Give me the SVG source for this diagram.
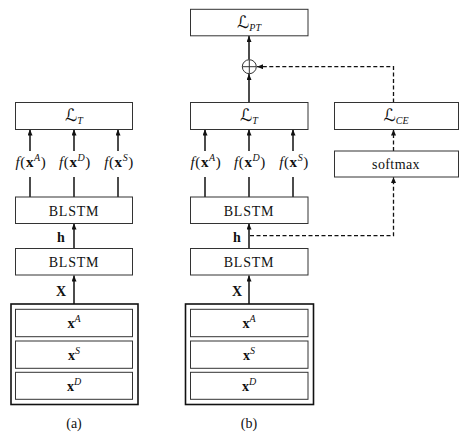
<svg xmlns="http://www.w3.org/2000/svg" width="463" height="437" viewBox="0 0 463 437">
<style>
.box{fill:#fff;stroke:#333;stroke-width:1}
.outer{fill:#fff;stroke:#111;stroke-width:1.6}
.t{font-family:"Liberation Serif","DejaVu Serif",serif;font-size:14px;fill:#111;text-anchor:middle}
.fl{font-size:15px;letter-spacing:0.6px}
.cal{font-family:"DejaVu Serif","DejaVu Sans",serif;font-size:17px}
.it{font-style:italic}
.b{font-weight:bold}
.sup{font-style:italic;font-size:10px}
.ln{stroke:#111;stroke-width:1.5;fill:none}
.ar{stroke:#111;stroke-width:1.5;fill:none;marker-end:url(#ah)}
.da{stroke:#111;stroke-width:1.3;fill:none;stroke-dasharray:4,2.5}
.dar{stroke:#111;stroke-width:1.3;fill:none;stroke-dasharray:4,2.5;marker-end:url(#ah)}
</style>
<defs>
<marker id="ah" markerUnits="userSpaceOnUse" markerWidth="7" markerHeight="6" refX="6" refY="2.5" orient="auto">
<path d="M0,0 L6,2.5 L0,5 z" fill="#111"/>
</marker>
</defs>
<rect width="463" height="437" fill="#fff"/>

<!-- connectors -->
<g id="connectors">
<!-- (a) -->
<line class="ar" x1="74" y1="304" x2="74" y2="275.5"/>
<line class="ar" x1="74" y1="248.5" x2="74" y2="223.5"/>
<line class="ln" x1="30" y1="197" x2="30" y2="177"/>
<line class="ln" x1="74" y1="197" x2="74" y2="177"/>
<line class="ln" x1="118" y1="197" x2="118" y2="177"/>
<line class="ar" x1="30" y1="151" x2="30" y2="129.5"/>
<line class="ar" x1="74" y1="151" x2="74" y2="129.5"/>
<line class="ar" x1="118" y1="151" x2="118" y2="129.5"/>
<!-- (b) -->
<line class="ar" x1="249" y1="304" x2="249" y2="275.5"/>
<line class="ar" x1="249" y1="248.5" x2="249" y2="223.5"/>
<line class="ln" x1="205" y1="197" x2="205" y2="177"/>
<line class="ln" x1="249" y1="197" x2="249" y2="177"/>
<line class="ln" x1="293" y1="197" x2="293" y2="177"/>
<line class="ar" x1="205" y1="151" x2="205" y2="129.5"/>
<line class="ar" x1="249" y1="151" x2="249" y2="129.5"/>
<line class="ar" x1="293" y1="151" x2="293" y2="129.5"/>
<line class="ar" x1="249" y1="102.5" x2="249" y2="74"/>
<line class="ar" x1="249" y1="59.5" x2="249" y2="36"/>
<polyline class="dar" points="250,235.7 393.5,235.7 393.5,177"/>
<line class="dar" x1="393.5" y1="151" x2="393.5" y2="129.5"/>
<polyline class="dar" points="393.5,102.5 393.5,66.7 257,66.7"/>
</g>

<!-- (a) nodes -->
<g id="a-LT"><rect class="box" x="15.5" y="102.5" width="117" height="27"/>
<text class="t" x="74" y="121"><tspan class="cal">ℒ</tspan><tspan class="sup" dy="3">T</tspan></text></g>
<g id="a-fA"><text class="t fl" x="31" y="167"><tspan class="it">f</tspan>(<tspan class="b">x</tspan><tspan class="sup" dy="-6">A</tspan><tspan dy="6">)</tspan></text></g>
<g id="a-fD"><text class="t fl" x="75" y="167"><tspan class="it">f</tspan>(<tspan class="b">x</tspan><tspan class="sup" dy="-6">D</tspan><tspan dy="6">)</tspan></text></g>
<g id="a-fS"><text class="t fl" x="119" y="167"><tspan class="it">f</tspan>(<tspan class="b">x</tspan><tspan class="sup" dy="-6">S</tspan><tspan dy="6">)</tspan></text></g>
<g id="a-BLSTM1"><rect class="box" x="15.5" y="197" width="117" height="26.5"/>
<text class="t" x="74" y="215.5" letter-spacing="0.8">BLSTM</text></g>
<g id="a-h"><text class="t b" x="61" y="241.5" font-size="13">h</text></g>
<g id="a-BLSTM2"><rect class="box" x="15.5" y="248.5" width="117" height="26.5"/>
<text class="t" x="74" y="267" letter-spacing="0.8">BLSTM</text></g>
<g id="a-X"><text class="t b" x="61" y="296" font-size="15">X</text></g>
<g id="a-input"><rect class="outer" x="11" y="304" width="127" height="100.5"/>
<rect class="box" x="15.5" y="309.3" width="117" height="27.4"/>
<text class="t" x="74" y="327.5"><tspan class="b">x</tspan><tspan class="sup" dy="-6">A</tspan></text>
<rect class="box" x="15.5" y="341" width="117" height="27.3"/>
<text class="t" x="74" y="359.5"><tspan class="b">x</tspan><tspan class="sup" dy="-6">S</tspan></text>
<rect class="box" x="15.5" y="372.3" width="117" height="27"/>
<text class="t" x="74" y="390.5"><tspan class="b">x</tspan><tspan class="sup" dy="-6">D</tspan></text></g>
<g id="a-caption"><text class="t" x="74" y="428">(a)</text></g>

<!-- (b) nodes -->
<g id="b-LPT"><rect class="box" x="190.5" y="9.3" width="117.5" height="26.5"/>
<text class="t" x="249" y="28"><tspan class="cal">ℒ</tspan><tspan class="sup" dy="3">PT</tspan></text></g>
<g id="b-plus"><circle cx="249.3" cy="66.7" r="7" fill="#fff" stroke="#333" stroke-width="1"/>
<line x1="242.3" y1="66.7" x2="256.3" y2="66.7" stroke="#333" stroke-width="1"/>
<line x1="249.3" y1="59.7" x2="249.3" y2="73.7" stroke="#333" stroke-width="1"/></g>
<g id="b-LT"><rect class="box" x="190.5" y="102.5" width="117.5" height="27"/>
<text class="t" x="249" y="121"><tspan class="cal">ℒ</tspan><tspan class="sup" dy="3">T</tspan></text></g>
<g id="b-LCE"><rect class="box" x="334.5" y="102.5" width="124" height="27"/>
<text class="t" x="396" y="121"><tspan class="cal">ℒ</tspan><tspan class="sup" dy="3">CE</tspan></text></g>
<g id="b-softmax"><rect class="box" x="334.5" y="151" width="124" height="26"/>
<text class="t" x="396" y="168.5" letter-spacing="0.4">softmax</text></g>
<g id="b-fA"><text class="t fl" x="206" y="167"><tspan class="it">f</tspan>(<tspan class="b">x</tspan><tspan class="sup" dy="-6">A</tspan><tspan dy="6">)</tspan></text></g>
<g id="b-fD"><text class="t fl" x="250" y="167"><tspan class="it">f</tspan>(<tspan class="b">x</tspan><tspan class="sup" dy="-6">D</tspan><tspan dy="6">)</tspan></text></g>
<g id="b-fS"><text class="t fl" x="294" y="167"><tspan class="it">f</tspan>(<tspan class="b">x</tspan><tspan class="sup" dy="-6">S</tspan><tspan dy="6">)</tspan></text></g>
<g id="b-BLSTM1"><rect class="box" x="190.5" y="197" width="117.5" height="26.5"/>
<text class="t" x="249" y="215.5" letter-spacing="0.8">BLSTM</text></g>
<g id="b-h"><text class="t b" x="237" y="241.5" font-size="13">h</text></g>
<g id="b-BLSTM2"><rect class="box" x="190.5" y="248.5" width="117.5" height="26.5"/>
<text class="t" x="249" y="267" letter-spacing="0.8">BLSTM</text></g>
<g id="b-X"><text class="t b" x="237" y="296" font-size="15">X</text></g>
<g id="b-input"><rect class="outer" x="185.5" y="304" width="128" height="100.5"/>
<rect class="box" x="190.5" y="309.3" width="117.5" height="27.4"/>
<text class="t" x="249" y="327.5"><tspan class="b">x</tspan><tspan class="sup" dy="-6">A</tspan></text>
<rect class="box" x="190.5" y="341" width="117.5" height="27.3"/>
<text class="t" x="249" y="359.5"><tspan class="b">x</tspan><tspan class="sup" dy="-6">S</tspan></text>
<rect class="box" x="190.5" y="372.3" width="117.5" height="27"/>
<text class="t" x="249" y="390.5"><tspan class="b">x</tspan><tspan class="sup" dy="-6">D</tspan></text></g>
<g id="b-caption"><text class="t" x="249" y="428">(b)</text></g>
</svg>
